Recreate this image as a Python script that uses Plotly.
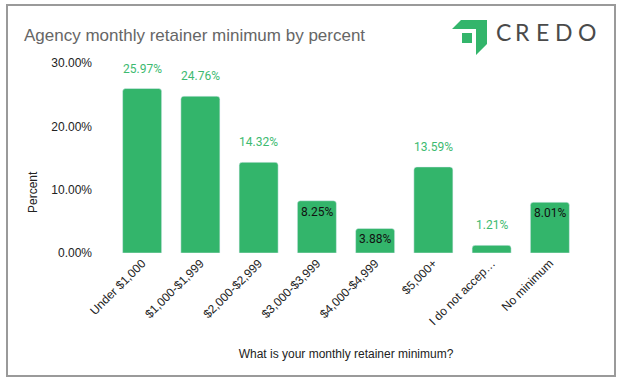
import plotly.graph_objects as go

categories = ["Under $1,000", "$1,000-$1,999", "$2,000-$2,999", "$3,000-$3,999",
              "$4,000-$4,999", "$5,000+", "I do not accep…", "No minimum"]
values = [25.97, 24.76, 14.32, 8.25, 3.88, 13.59, 1.21, 8.01]
label_inside = [False, False, False, True, True, False, False, True]
y_ticks = [0, 10, 20, 30]

GREEN = "#33b56b"

W, H = 617, 387
# plot area in window pixels
PL, PR, PT, PB = 113, 579, 63, 253


def ax_x(x):
    return (x - PL) / (PR - PL)


def ax_y(y):
    return (PB - y) / (PB - PT)


fig = go.Figure()
fig.add_trace(go.Bar(
    x=categories, y=values, marker=dict(color=GREEN, cornerradius=3),
    hoverinfo="skip", showlegend=False,
))

for c, v, ins in zip(categories, values, label_inside):
    if ins:
        fig.add_annotation(x=c, y=v, text=f"{v:.2f}%", showarrow=False,
                           yanchor="top", yshift=-2,
                           font=dict(family="Roboto", size=12, color="#111111"))
    else:
        fig.add_annotation(x=c, y=v, text=f"{v:.2f}%", showarrow=False,
                           yanchor="bottom", yshift=11,
                           font=dict(family="Roboto", size=12, color="#3dba70"))

# title
fig.add_annotation(xref="paper", yref="paper", x=ax_x(22), y=ax_y(35),
                   xanchor="left", yanchor="middle",
                   text="Agency monthly retainer minimum by percent", showarrow=False,
                   font=dict(family="Liberation Sans, Arial", size=17, color="#666666"))
# y title
fig.add_annotation(xref="paper", yref="paper", x=ax_x(33), y=ax_y(192),
                   xanchor="center", yanchor="middle",
                   text="Percent", textangle=-90, showarrow=False,
                   font=dict(family="Liberation Sans, Arial", size=12, color="#222222"))

# logo mark
logo = [(452, 29), (461, 20), (487, 20), (487, 44), (476, 55), (476, 29)]
path = "M " + " L ".join(f"{ax_x(x)},{ax_y(y)}" for x, y in logo) + " Z"
fig.add_shape(type="path", xref="paper", yref="paper", path=path,
              fillcolor=GREEN, line=dict(width=0))
fig.add_shape(type="rect", xref="paper", yref="paper",
              x0=ax_x(462), x1=ax_x(472), y0=ax_y(43), y1=ax_y(33),
              fillcolor=GREEN, line=dict(width=0))
letters = ["C", "R", "E", "D", "O"]
letter_x = [503.5, 522.5, 542.5, 563.5, 586.5]
for L, lx in zip(letters, letter_x):
    fig.add_annotation(text=L, showarrow=False, xref="paper", yref="paper",
                       x=ax_x(lx), y=ax_y(32), xanchor="center", yanchor="middle",
                       font=dict(family="Lato", size=23, color="#4a4a4a"))

# outer border
fig.add_shape(type="rect", xref="paper", yref="paper",
              x0=ax_x(7), x1=ax_x(615), y0=ax_y(376), y1=ax_y(5),
              fillcolor="rgba(0,0,0,0)", line=dict(color="#9a9a9a", width=2))

fig.update_layout(
    width=W, height=H,
    margin=dict(l=PL, r=W - PR, t=PT, b=H - PB),
    paper_bgcolor="white", plot_bgcolor="white",
    bargap=0.33,
    font=dict(family="Liberation Sans, Arial", size=12, color="#222222"),
    xaxis=dict(tickangle=-45, showgrid=False, showline=False, ticks="",
               tickfont=dict(size=12, color="#222222"), automargin=False,
               title=dict(text="What is your monthly retainer minimum?", standoff=22,
                          font=dict(size=12, color="#222222"))),
    yaxis=dict(range=[0, 30], tickvals=y_ticks, ticktext=[f"{t:.2f}%" for t in y_ticks],
               showgrid=False, zeroline=False, showline=False, ticks="",
               automargin=False,
               tickfont=dict(size=12, color="#222222"), ticklabelstandoff=20),
)

fig.write_html("out.html", config={"displayModeBar": False},
               post_script="document.body.style.margin='0';document.body.style.overflow='hidden';")
